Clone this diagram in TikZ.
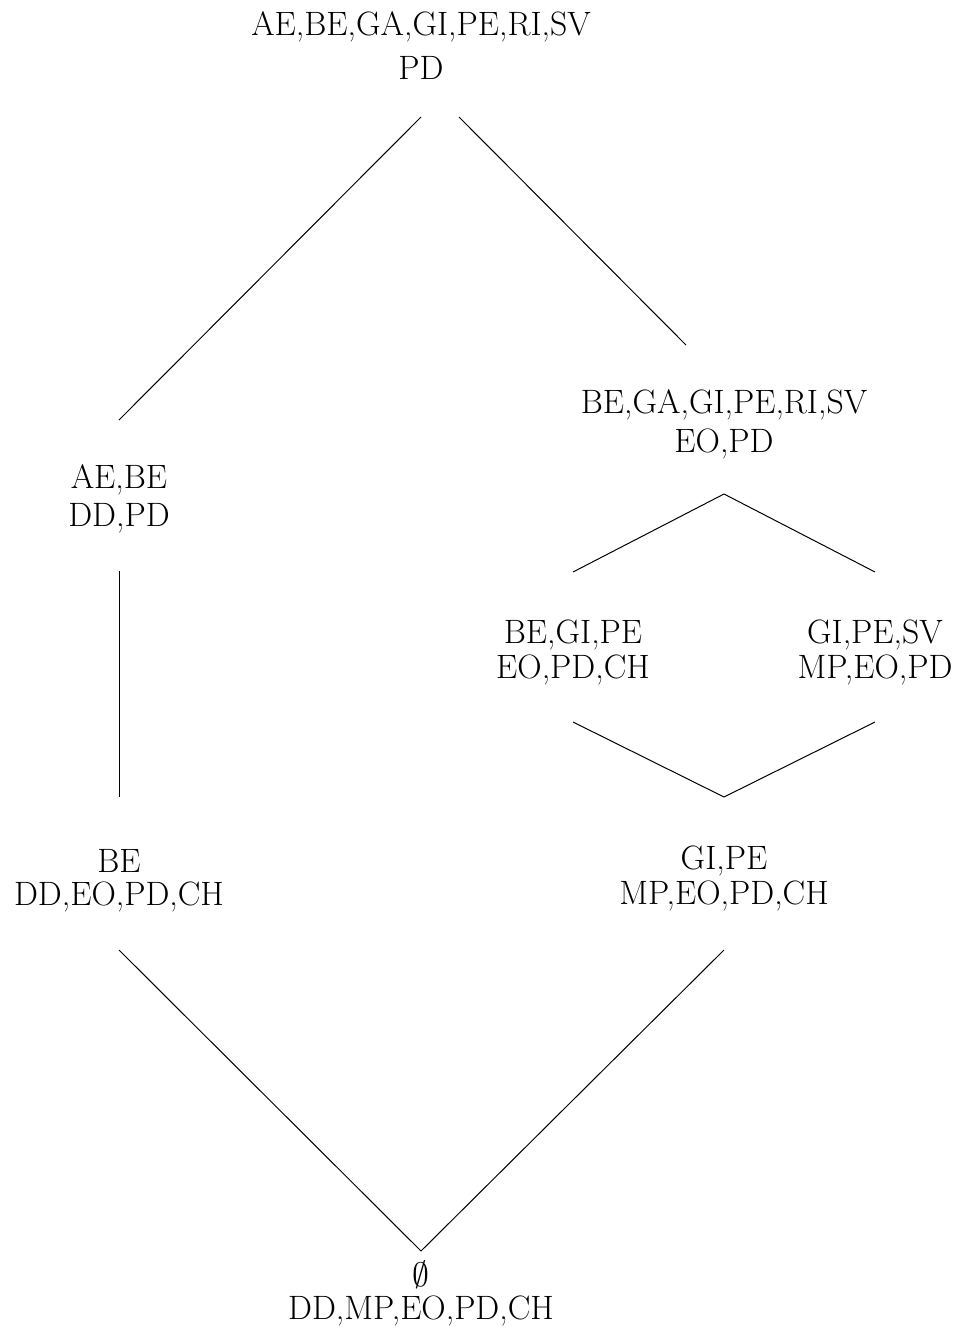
\RequirePackage{fix-cm}
\documentclass[tikz,border=0pt]{standalone}
\begin{document}
\begin{tikzpicture}[x=1pt,y=-1pt,
  lbl/.style={anchor=base,inner sep=0pt,font=\fontsize{33.8}{40}\selectfont},
  edge/.style={line width=1pt}]
\useasboundingbox (0,0) rectangle (960,1330);
% concept labels
\node[lbl] (topA) at (421,36) {AE,BE,GA,GI,PE,RI,SV};
\node[lbl] (topB) at (421,79) {PD};
\node[lbl] (r1A) at (724,413) {BE,GA,GI,PE,RI,SV};
\node[lbl] (r1B) at (724,452) {EO,PD};
\node[lbl] (l1A) at (119,488) {AE,BE};
\node[lbl] (l1B) at (119,526) {DD,PD};
\node[lbl] (rlA) at (573,643) {BE,GI,PE};
\node[lbl] (rlB) at (573,678) {EO,PD,CH};
\node[lbl] (rrA) at (875,643) {GI,PE,SV};
\node[lbl] (rrB) at (875,678) {MP,EO,PD};
\node[lbl] (l2A) at (119,872) {BE};
\node[lbl] (l2B) at (119,905) {DD,EO,PD,CH};
\node[lbl] (r2A) at (724,869) {GI,PE};
\node[lbl] (r2B) at (724,904) {MP,EO,PD,CH};
\node[lbl] (botA) at (421,1286) {$\emptyset$};
\node[lbl] (botB) at (421,1319) {DD,MP,EO,PD,CH};
% edge end points
\coordinate (c1) at (421,117);
\coordinate (c2) at (119,420);
\coordinate (c3) at (459,117);
\coordinate (c4) at (686,345);
\coordinate (c5) at (724,494);
\coordinate (c6) at (573,572);
\coordinate (c7) at (875,572);
\coordinate (c8) at (573,722);
\coordinate (c9) at (724,797);
\coordinate (c10) at (875,722);
\coordinate (c11) at (119,571);
\coordinate (c12) at (119,797);
\coordinate (c13) at (119,950);
\coordinate (c14) at (421,1251);
\coordinate (c15) at (724,950);
% edges
\draw[edge] (c1) -- (c2);
\draw[edge] (c3) -- (c4);
\draw[edge] (c5) -- (c6);
\draw[edge] (c5) -- (c7);
\draw[edge] (c8) -- (c9);
\draw[edge] (c10) -- (c9);
\draw[edge] (c11) -- (c12);
\draw[edge] (c13) -- (c14);
\draw[edge] (c15) -- (c14);
\end{tikzpicture}
\end{document}
